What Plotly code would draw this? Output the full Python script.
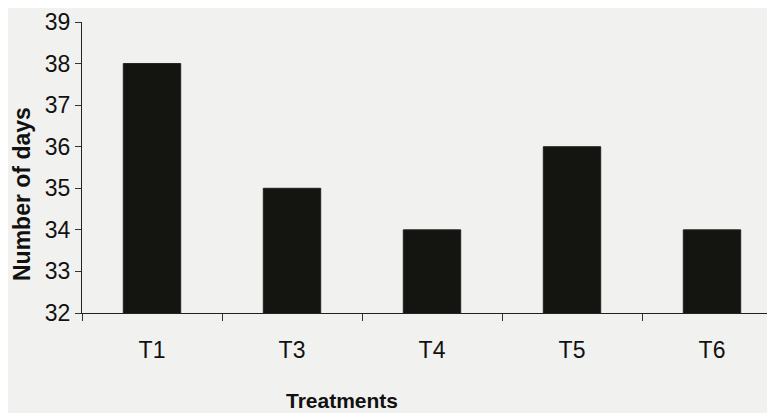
import plotly.graph_objects as go

categories = ["T1", "T3", "T4", "T5", "T6"]
days = [38, 35, 34, 36, 34]
y_ticks = [32, 33, 34, 35, 36, 37, 38, 39]

FONT = "Liberation Sans, Arial, sans-serif"
BG = "#f1f1ef"

# page has an 8px body margin; figure occupies page px 8..775, 8..413
OFF = 8
W, H = 775 - OFF, 413 - OFF
L, R, T, B = 82 - OFF, 0, 22 - OFF, 413 - 313

fig = go.Figure()
fig.add_trace(go.Bar(
    x=categories, y=days, width=0.41,
    marker=dict(color="#141410", line=dict(color="#222", width=1)),
))

fig.update_layout(
    width=W, height=H,
    margin=dict(l=L, r=R, t=T, b=B, autoexpand=False),
    paper_bgcolor=BG, plot_bgcolor=BG,
    showlegend=False,
    font=dict(family=FONT, color="#111"),
    xaxis=dict(
        type="category", range=[-0.5, 4.45],
        showline=True, linecolor="#222", linewidth=1.2,
        ticks="outside", tickson="boundaries", ticklen=7, tickcolor="#333",
        tickfont=dict(size=23, family=FONT, color="#111"),
        ticklabelstandoff=16,
        showgrid=False, zeroline=False,
    ),
    yaxis=dict(
        range=[32, 39], tickvals=y_ticks,
        showline=True, linecolor="#222", linewidth=1.2,
        ticks="outside", ticklen=6, tickcolor="#333",
        tickfont=dict(size=23, family=FONT, color="#111"),
        showgrid=False, zeroline=False,
    ),
)

pw = W - L - R
ph = H - T - B


def to_paper(px, py):
    # px, py in reference page pixels
    return (px - OFF - L) / pw, (H - B - (py - OFF)) / ph


ax, ay = to_paper(342, 400)
bx, by = to_paper(22, 194)
fig.add_annotation(text="<b>Treatments</b>", x=ax, y=ay, xref="paper", yref="paper",
                   xanchor="center", yanchor="middle", showarrow=False,
                   font=dict(size=21, family=FONT, color="#111"))
fig.add_annotation(text="<b>Number of days</b>", x=bx, y=by, xref="paper", yref="paper",
                   xanchor="center", yanchor="middle", textangle=-90, showarrow=False,
                   font=dict(size=23, family=FONT, color="#111"))

fig.write_html("out.html")
